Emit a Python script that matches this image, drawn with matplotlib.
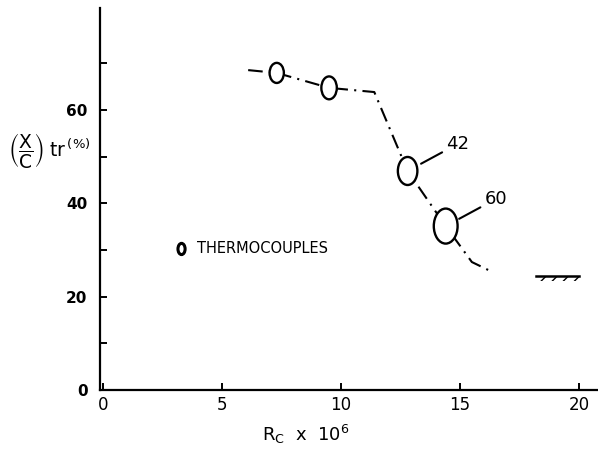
import numpy as np
import matplotlib
matplotlib.use("Agg")
import matplotlib.pyplot as plt
from matplotlib.patches import Ellipse, Rectangle

plt.rcParams['font.family'] = ['DejaVu Sans']
plt.rcParams['mathtext.fontset'] = 'dejavusans'

# transition location curve (dash-dot)
curve_rc = [6.1, 7.3, 9.5, 11.4, 12.8, 14.4, 15.5, 16.35]
curve_xc = [68.5, 67.9, 64.7, 63.8, 46.9, 35.1, 27.4, 25.3]

# thermocouple readings
tc_rc = [7.3, 9.5, 12.8, 14.4]
tc_xc = [67.9, 64.7, 46.9, 35.1]
tc_size = [(0.6, 4.3), (0.65, 4.9), (0.82, 6.0), (1.0, 7.5)]  # ellipse w, h

# numbered points
tag_rc = [12.8, 14.4]
tag_xc = [46.9, 35.1]
tag_text = ['42', '60']

# hatched limit mark
limit_rc = (18.2, 20.0)
limit_xc = 24.5

xticks = [0, 5, 10, 15, 20]
yticks_major = [0, 20, 40, 60]
yticks_minor = [10, 30, 50, 70]

fig = plt.figure(figsize=(5.98, 4.55), dpi=100)
ax = fig.add_axes([100 / 598, 65 / 455, 498 / 598, 382 / 455])
ax.set_xlim(-0.126, 20.8)
ax.set_ylim(0, 81.8)

for s in ['top', 'right']:
    ax.spines[s].set_visible(False)
for s in ['left', 'bottom']:
    ax.spines[s].set_linewidth(1.6)

ax.plot(curve_rc, curve_xc, color='black', lw=1.5,
        linestyle=(0, (7, 3, 1, 3)), zorder=2)

for (x, y, (w, h)) in zip(tc_rc, tc_xc, tc_size):
    ax.add_patch(Ellipse((x, y), w, h, facecolor='white', edgecolor='black',
                         lw=1.7, zorder=3))

for x, y, t in zip(tag_rc, tag_xc, tag_text):
    ax.annotate(t, xy=(x, y), xytext=(50, 27), textcoords='offset pixels',
                fontsize=13, ha='center', va='center',
                arrowprops=dict(arrowstyle='-', lw=1.5, color='black',
                                shrinkA=1, shrinkB=11))

# hatched limit
ax.plot(limit_rc, [limit_xc, limit_xc], color='black', lw=1.8)
ax.add_patch(Rectangle((limit_rc[0], limit_xc - 1.1), limit_rc[1] - limit_rc[0], 1.1,
                       facecolor='none', edgecolor='black', lw=0, hatch='///'))

# legend
ax.add_patch(Ellipse((3.3, 30.2), 0.3, 2.4, facecolor='white', edgecolor='black', lw=2.2))
ax.text(3.95, 30.2, 'THERMOCOUPLES', fontsize=10.5, va='center', ha='left')

ax.set_xticks(xticks)
ax.set_xticklabels([str(v) for v in xticks], fontsize=12)
ax.set_yticks(yticks_major)
ax.set_yticklabels([str(v) for v in yticks_major], fontsize=11, fontweight='bold')
ax.set_yticks(yticks_minor, minor=True)
ax.tick_params(axis='both', which='both', direction='in', length=5, width=1.4)
ax.tick_params(axis='y', pad=9)
ax.tick_params(axis='x', pad=4)

fig.text(8 / 598, 1 - 150 / 455,
         r'$\left(\dfrac{\mathrm{X}}{\mathrm{C}}\right)\;\mathrm{tr}^{\,(\%)}$',
         fontsize=13.5, ha='left', va='center')
fig.text(306 / 598, 1 - 434 / 455, r'$\mathrm{R_C}$  x  10$^6$',
         fontsize=13, ha='center', va='center')

fig.savefig('out.png', dpi=100)
